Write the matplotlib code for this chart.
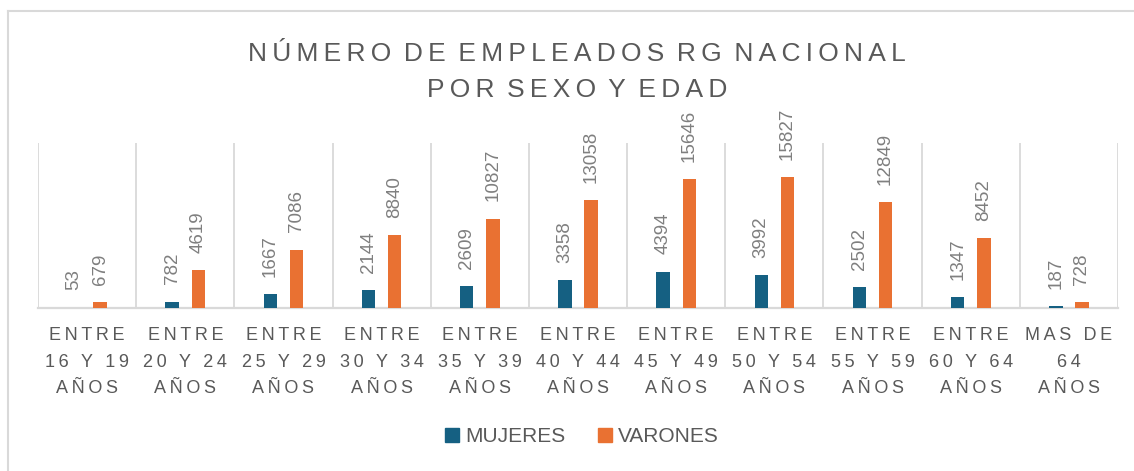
import matplotlib
matplotlib.use('Agg')
import matplotlib.pyplot as plt
import numpy as np
from matplotlib.lines import Line2D
from matplotlib.patches import Patch

plt.rcParams['font.family'] = ['Liberation Sans', 'DejaVu Sans']

categories = ['ENTRE\n16 Y 19\nAÑOS', 'ENTRE\n20 Y 24\nAÑOS', 'ENTRE\n25 Y 29\nAÑOS',
              'ENTRE\n30 Y 34\nAÑOS', 'ENTRE\n35 Y 39\nAÑOS', 'ENTRE\n40 Y 44\nAÑOS',
              'ENTRE\n45 Y 49\nAÑOS', 'ENTRE\n50 Y 54\nAÑOS', 'ENTRE\n55 Y 59\nAÑOS',
              'ENTRE\n60 Y 64\nAÑOS', 'MAS DE\n64\nAÑOS']
mujeres = [53, 782, 1667, 2144, 2609, 3358, 4394, 3992, 2502, 1347, 187]
varones = [679, 4619, 7086, 8840, 10827, 13058, 15646, 15827, 12849, 8452, 728]
series_names = ['MUJERES', 'VARONES']
title_lines = ['NÚMERO DE EMPLEADOS RG NACIONAL', 'POR SEXO Y EDAD']

BLUE = '#156082'
ORANGE = '#E97132'
GRID = '#D9D9D9'
TXT = '#595959'
LBL = '#7F7F7F'


def track(s, sp='\u2009', word_sep=None):
    # fake letter spacing, line by line
    if word_sep is None:
        word_sep = sp + ' ' + sp
    return '\n'.join(word_sep.join(sp.join(w) for w in line.split(' '))
                     for line in s.split('\n'))


W, H = 1134, 471
fig = plt.figure(figsize=(W / 100, H / 100), dpi=100)
ax = fig.add_axes([38 / W, 1 - 308 / H, 1080 / W, 165 / H])

x = np.arange(len(categories))
off, bw = 0.133, 0.137
b1 = ax.bar(x - off, mujeres, bw, color=BLUE, zorder=3)
b2 = ax.bar(x + off, varones, bw, color=ORANGE, zorder=3)

for bars, vals in ((b1, mujeres), (b2, varones)):
    for rect, v in zip(bars, vals):
        ax.annotate(str(v), (rect.get_x() + rect.get_width() / 2, v),
                    xytext=(0, 12.5), textcoords='offset points',
                    rotation=90, ha='center', va='bottom',
                    fontsize=13.5, color=LBL)

ax.set_xlim(-0.5, len(categories) - 0.5)
ax.set_ylim(0, 20000)
for b in np.arange(-0.5, len(categories), 1.0):
    ax.axvline(b, color=GRID, lw=1.3, zorder=1)

for s in ('top', 'right', 'left'):
    ax.spines[s].set_visible(False)
ax.spines['bottom'].set_color(GRID)
ax.spines['bottom'].set_linewidth(1.6)
ax.set_yticks([])
ax.set_xticks(x)
ax.set_xticklabels([track(c) for c in categories], fontsize=13, color=TXT,
                   linespacing=1.72)
ax.tick_params(axis='x', length=0, pad=14)

fig.text(577 / W, 1 - 72 / H,
         track('\n'.join(title_lines), word_sep='\u2009 '), ha='center',
         va='center', fontsize=19, color=TXT, linespacing=1.63)

handles = [Patch(color=BLUE), Patch(color=ORANGE)]
fig.legend(handles, series_names, loc='center', ncol=2, frameon=False,
           bbox_to_anchor=(582 / W, 1 - 437 / H), fontsize=15,
           labelcolor=TXT, handlelength=0.65, handleheight=0.65,
           handletextpad=0.3, columnspacing=1.6)

# chart area border (only top and left edges visible)
fig.add_artist(Line2D([8 / W, 8 / W], [0, 1 - 11 / H], color=GRID, lw=1.5,
                      transform=fig.transFigure))
fig.add_artist(Line2D([8 / W, 1], [1 - 11 / H, 1 - 11 / H], color=GRID, lw=1.5,
                      transform=fig.transFigure))

fig.savefig('out.png', dpi=100)
